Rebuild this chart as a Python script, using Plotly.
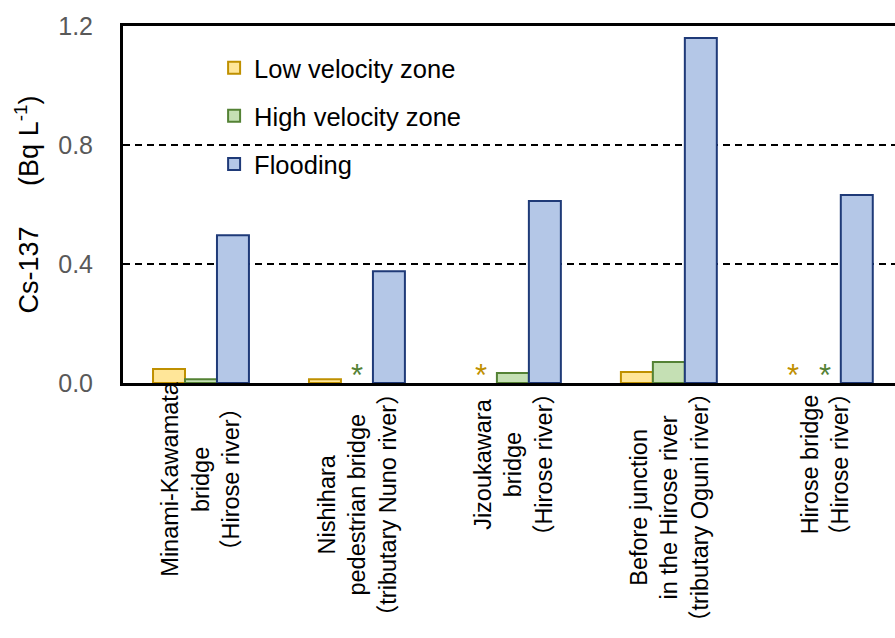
import plotly.graph_objects as go

# Sampling sites along the river system
sites = [
    "Minami-Kawamata<br>bridge<br>（Hirose river）",
    "Nishihara<br>pedestrian bridge<br>（tributary Nuno river）",
    "Jizoukawara<br>bridge<br>（Hirose river）",
    "Before junction<br>in the Hirose river<br>（tributary Oguni river）",
    "Hirose bridge<br>（Hirose river）",
]
site_idx = [0, 1, 2, 3, 4]

# Dissolved Cs-137 concentration (Bq/L); None = not detected (marked with *)
low_velocity = [0.047, 0.013, None, 0.037, None]
high_velocity = [0.013, None, 0.034, 0.071, None]
flooding = [0.497, 0.376, 0.612, 1.16, 0.632]

y_ticks = [0.0, 0.4, 0.8, 1.2]
y_ticktext = ["0.0", "0.4", "0.8", "1.2"]

FONT = "Liberation Sans, Arial, Noto Sans CJK JP, sans-serif"
BAR_W = 0.205

series = [
    ("Low velocity zone", low_velocity, "#FFE699", "#BF9000"),
    ("High velocity zone", high_velocity, "#C5E0B4", "#548235"),
    ("Flooding", flooding, "#B4C7E7", "#1F3A78"),
]

fig = go.Figure()
for name, vals, fill, edge in series:
    fig.add_trace(go.Bar(
        x=site_idx, y=vals, name=name, legendgroup=name,
        marker=dict(color=fill, line=dict(color=edge, width=2)),
    ))

# Asterisks for non-detected samples, placed in the empty bar slot
for k, (name, vals, fill, edge) in enumerate(series):
    for i, v in zip(site_idx, vals):
        if v is None:
            fig.add_annotation(
                x=i + (k - 1) * BAR_W, y=0, xref="x", yref="y", text="*",
                showarrow=False, xanchor="center", yanchor="middle", yshift=8,
                font=dict(family=FONT, size=31, color=edge),
            )

# Site labels, rotated and centred line by line
for i, label in zip(site_idx, sites):
    fig.add_annotation(
        x=i, y=0.012, xref="x", yref="paper", text=label, showarrow=False,
        textangle=-90, xanchor="center", yanchor="top", align="center",
        font=dict(family=FONT, size=23.5, color="#000000"),
    )

# White panel behind the legend, interrupting the grid lines
fig.add_shape(
    type="rect", xref="paper", yref="paper",
    x0=0.087, x1=0.479, y0=0.538, y1=0.952,
    fillcolor="white", line=dict(width=0), layer="between",
)

fig.update_layout(
    width=895, height=638,
    margin=dict(l=123, r=0, t=26, b=255),
    paper_bgcolor="white", plot_bgcolor="white",
    barmode="group", bargap=0.385, bargroupgap=0,
    font=dict(family=FONT, size=25, color="#000000"),
    showlegend=True,
    legend=dict(
        x=0.118, y=0.948, xanchor="left", yanchor="top",
        bgcolor="rgba(0,0,0,0)", borderwidth=0,
        font=dict(family=FONT, size=25.5, color="#000000"),
        traceorder="grouped", tracegroupgap=12,
        itemclick=False,
    ),
    xaxis=dict(
        range=[-0.5, 4.45], showticklabels=False, ticks="",
        showline=True, linecolor="#000000", linewidth=3, mirror=True,
        showgrid=False, zeroline=False,
    ),
    yaxis=dict(
        range=[0, 1.2], tickvals=y_ticks, ticktext=y_ticktext,
        tickfont=dict(family=FONT, size=25, color="#595959"),
        ticks="outside", ticklen=22, tickcolor="rgba(0,0,0,0)",
        showline=True, linecolor="#000000", linewidth=3,
        showgrid=True, gridcolor="#000000", gridwidth=1.5, griddash="7px,5px",
        zeroline=False,
        title=dict(
            text="Cs-137\u2003\u2002(Bq L<sup>-1</sup>)",
            font=dict(family=FONT, size=27, color="#000000"),
            standoff=12,
        ),
    ),
)

fig.write_html("out.html")
